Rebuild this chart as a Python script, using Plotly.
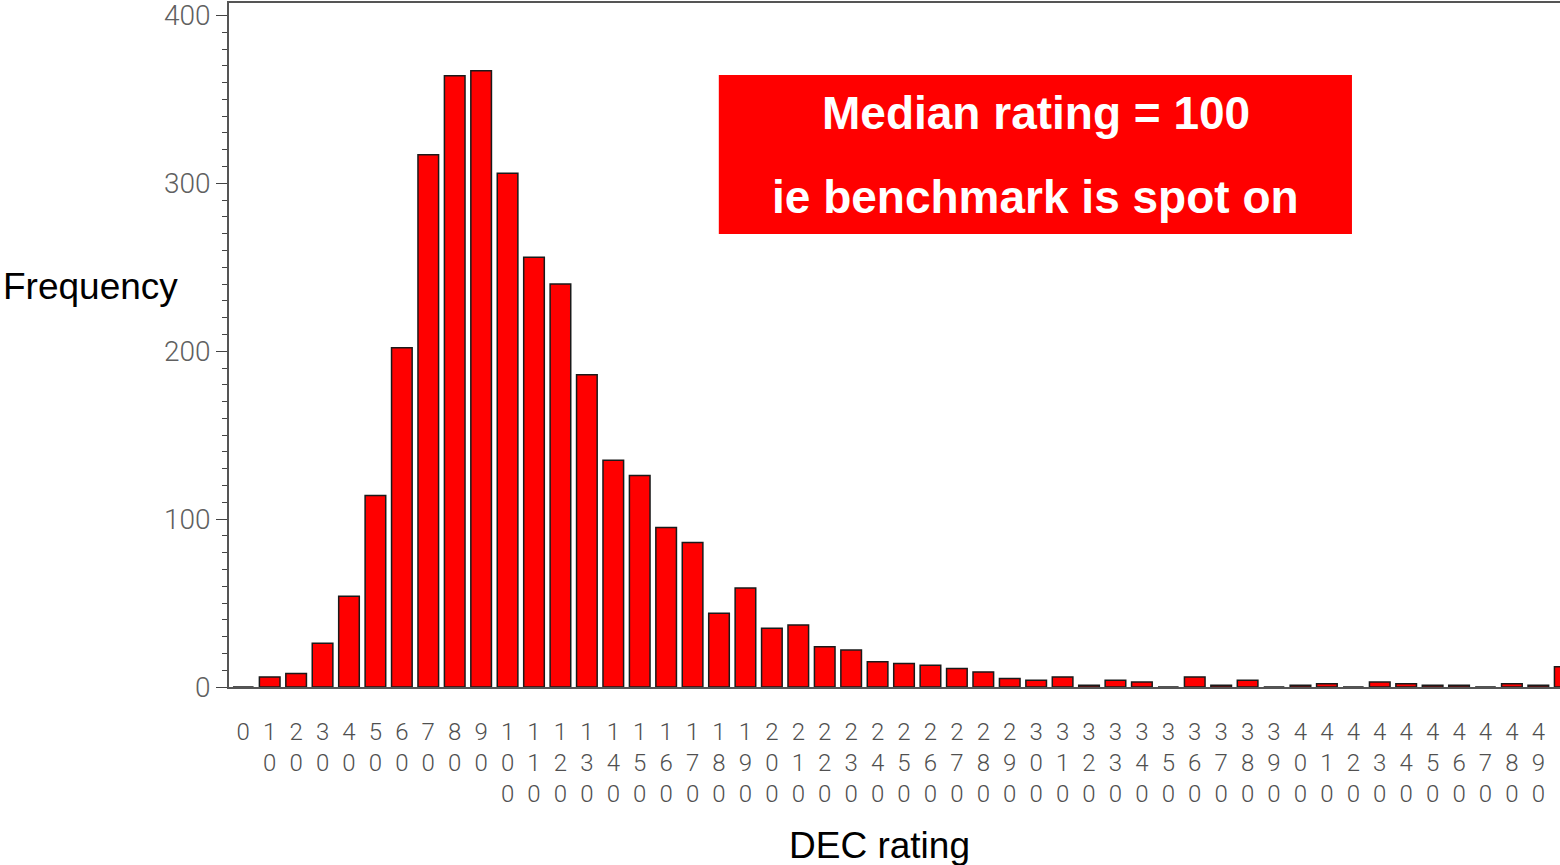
import plotly.graph_objects as go

# ---- data ----
dec_rating = [0, 10, 20, 30, 40, 50, 60, 70, 80, 90,
              100, 110, 120, 130, 140, 150, 160, 170, 180, 190,
              200, 210, 220, 230, 240, 250, 260, 270, 280, 290,
              300, 310, 320, 330, 340, 350, 360, 370, 380, 390,
              400, 410, 420, 430, 440, 450, 460, 470, 480, 490, 500]
frequency = [0, 6, 8, 26, 54, 114, 202, 317, 364, 367,
             306, 256, 240, 186, 135, 126, 95, 86, 44, 59,
             35, 37, 24, 22, 15, 14, 13, 11, 9, 5,
             4, 6, 1, 4, 3, 0, 6, 1, 4, 0,
             1, 2, 0, 3, 2, 1, 1, 0, 2, 1, 12]
y_ticks = [0, 100, 200, 300, 400]
x_tick_text = ["<br>".join(str(v)) for v in dec_rating]
y_tick_text = [str(v) for v in y_ticks]

TICK_FONT = "Roboto, Liberation Sans Narrow, DejaVu Sans Condensed, sans-serif"

fig = go.Figure(go.Bar(
    x=dec_rating, y=frequency, width=7.8,
    marker=dict(color="#ff0000", line=dict(color="#1a1a1a", width=1.5)),
))

fig.update_layout(
    width=1560, height=865,
    margin=dict(l=229, r=0, t=3, b=178),
    plot_bgcolor="white", paper_bgcolor="white",
    showlegend=False,
    xaxis=dict(
        range=[-5.4, 498.2],
        tickmode="array", tickvals=dec_rating, ticktext=x_tick_text,
        ticks="", ticklabelstandoff=22,
        tickfont=dict(family=TICK_FONT, size=24, color="#505050", weight=300),
        showgrid=False, zeroline=False,
        showline=True, linecolor="#555555", linewidth=1.5, mirror=True,
    ),
    yaxis=dict(
        range=[0, 407.4],
        tickmode="array", tickvals=y_ticks, ticktext=y_tick_text,
        ticks="outside", ticklen=11, tickwidth=1.2, tickcolor="#444444",
        minor=dict(dtick=10, ticks="outside", ticklen=5, tickwidth=1, tickcolor="#444444"),
        tickfont=dict(family=TICK_FONT, size=28, color="#606060", weight=300),
        ticklabeloverflow="allow",
        showgrid=False, zeroline=False,
        showline=True, linecolor="#555555", linewidth=1.5, mirror=False,
    ),
    shapes=[dict(type="rect", xref="paper", yref="paper",
                 x0=0.368, x1=0.8437, y0=0.6623, y1=0.8947,
                 fillcolor="#ff0000", line=dict(width=0))],
    annotations=[
        dict(text="<b>Median rating = 100</b>", xref="paper", yref="paper",
             x=0.606, y=0.839, xanchor="center", yanchor="middle", showarrow=False,
             font=dict(family="Liberation Sans, Arial, sans-serif", size=46, color="white")),
        dict(text="<b>ie benchmark is spot on</b>", xref="paper", yref="paper",
             x=0.606, y=0.716, xanchor="center", yanchor="middle", showarrow=False,
             font=dict(family="Liberation Sans, Arial, sans-serif", size=46, color="white")),
        dict(text="Frequency", xref="paper", yref="paper",
             x=-0.104, y=0.586, xanchor="center", yanchor="middle", showarrow=False,
             font=dict(family="Liberation Sans, Arial, sans-serif", size=37, color="black")),
        dict(text="DEC rating", xref="paper", yref="paper",
             x=0.489, y=-0.231, xanchor="center", yanchor="middle", showarrow=False,
             font=dict(family="Liberation Sans, Arial, sans-serif", size=37, color="black")),
    ],
)

fig.write_html("out.html",
               config={"displayModeBar": False},
               post_script="document.body.style.margin='0';document.body.style.overflow='hidden';")
